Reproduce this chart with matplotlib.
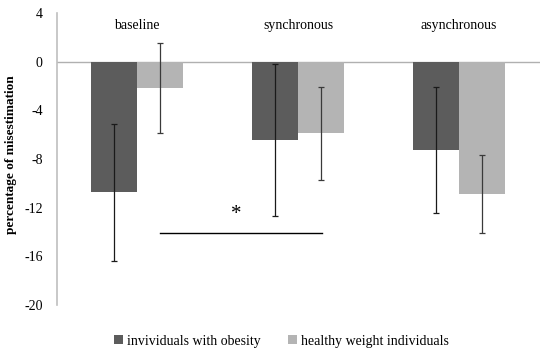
import matplotlib.pyplot as plt
import numpy as np

# data
conditions = ["baseline", "synchronous", "asynchronous"]
obese_mean = [-10.75, -6.4, -7.25]
obese_err = [5.65, 6.25, 5.2]
healthy_mean = [-2.15, -5.9, -10.85]
healthy_err = [3.7, 3.8, 3.2]
yticks = [4, 0, -4, -8, -12, -16, -20]
series_names = ["invividuals with obesity", "healthy weight individuals"]

plt.rcParams["font.family"] = ["Liberation Serif", "DejaVu Serif"]

fig = plt.figure(figsize=(5.5, 3.53), dpi=100)
ax = fig.add_axes([0.103, 0.136, 0.878, 0.827])

x = np.arange(len(conditions))
w = 0.286  # Excel style, gap width 150%

dark = "#5c5c5c"
light = "#b4b4b4"

ax.bar(x - w / 2, obese_mean, w, color=dark, label=series_names[0], zorder=2)
ax.bar(x + w / 2, healthy_mean, w, color=light, label=series_names[1], zorder=2)
ax.errorbar(x - w / 2, obese_mean, yerr=obese_err, fmt="none", ecolor="#1a1a1a",
            elinewidth=0.9, capsize=2.5, capthick=0.9, zorder=3)
ax.errorbar(x + w / 2, healthy_mean, yerr=healthy_err, fmt="none", ecolor="#3a3a3a",
            elinewidth=0.9, capsize=2.5, capthick=0.9, zorder=3)

# zero line
ax.axhline(0, color="#b0b0b0", lw=1, zorder=1)

# category labels at the top
for xi, name in zip(x, conditions):
    ax.text(xi, 2.95, name, ha="center", va="center", fontsize=10)

# significance bar between baseline and synchronous
ax.plot([0.143, 1.149], [-14.05, -14.05], color="black", lw=1, zorder=3)
ax.text(0.615, -12.6, "*", ha="center", va="center", fontsize=15)

ax.set_xlim(-0.5, 2.5)
ax.set_ylim(-20, 4)
ax.set_yticks(yticks)
ax.set_yticklabels([str(t) for t in yticks], fontsize=10)
ax.set_xticks([])
ax.tick_params(axis="y", length=0, pad=10)

for s in ["top", "right", "bottom"]:
    ax.spines[s].set_visible(False)
ax.spines["left"].set_color("#bfbfbf")
ax.spines["left"].set_linewidth(1.2)

ax.set_ylabel("percentage of misestimation", fontsize=9.5, fontweight="bold")
ax.yaxis.set_label_coords(-0.082, 0.514)

fig.legend(loc="lower center", bbox_to_anchor=(0.512, -0.02), ncol=2, frameon=False,
           fontsize=10, handlelength=0.6, handleheight=0.6, handletextpad=0.3,
           columnspacing=2.0)

fig.savefig("out.png", dpi=100)
